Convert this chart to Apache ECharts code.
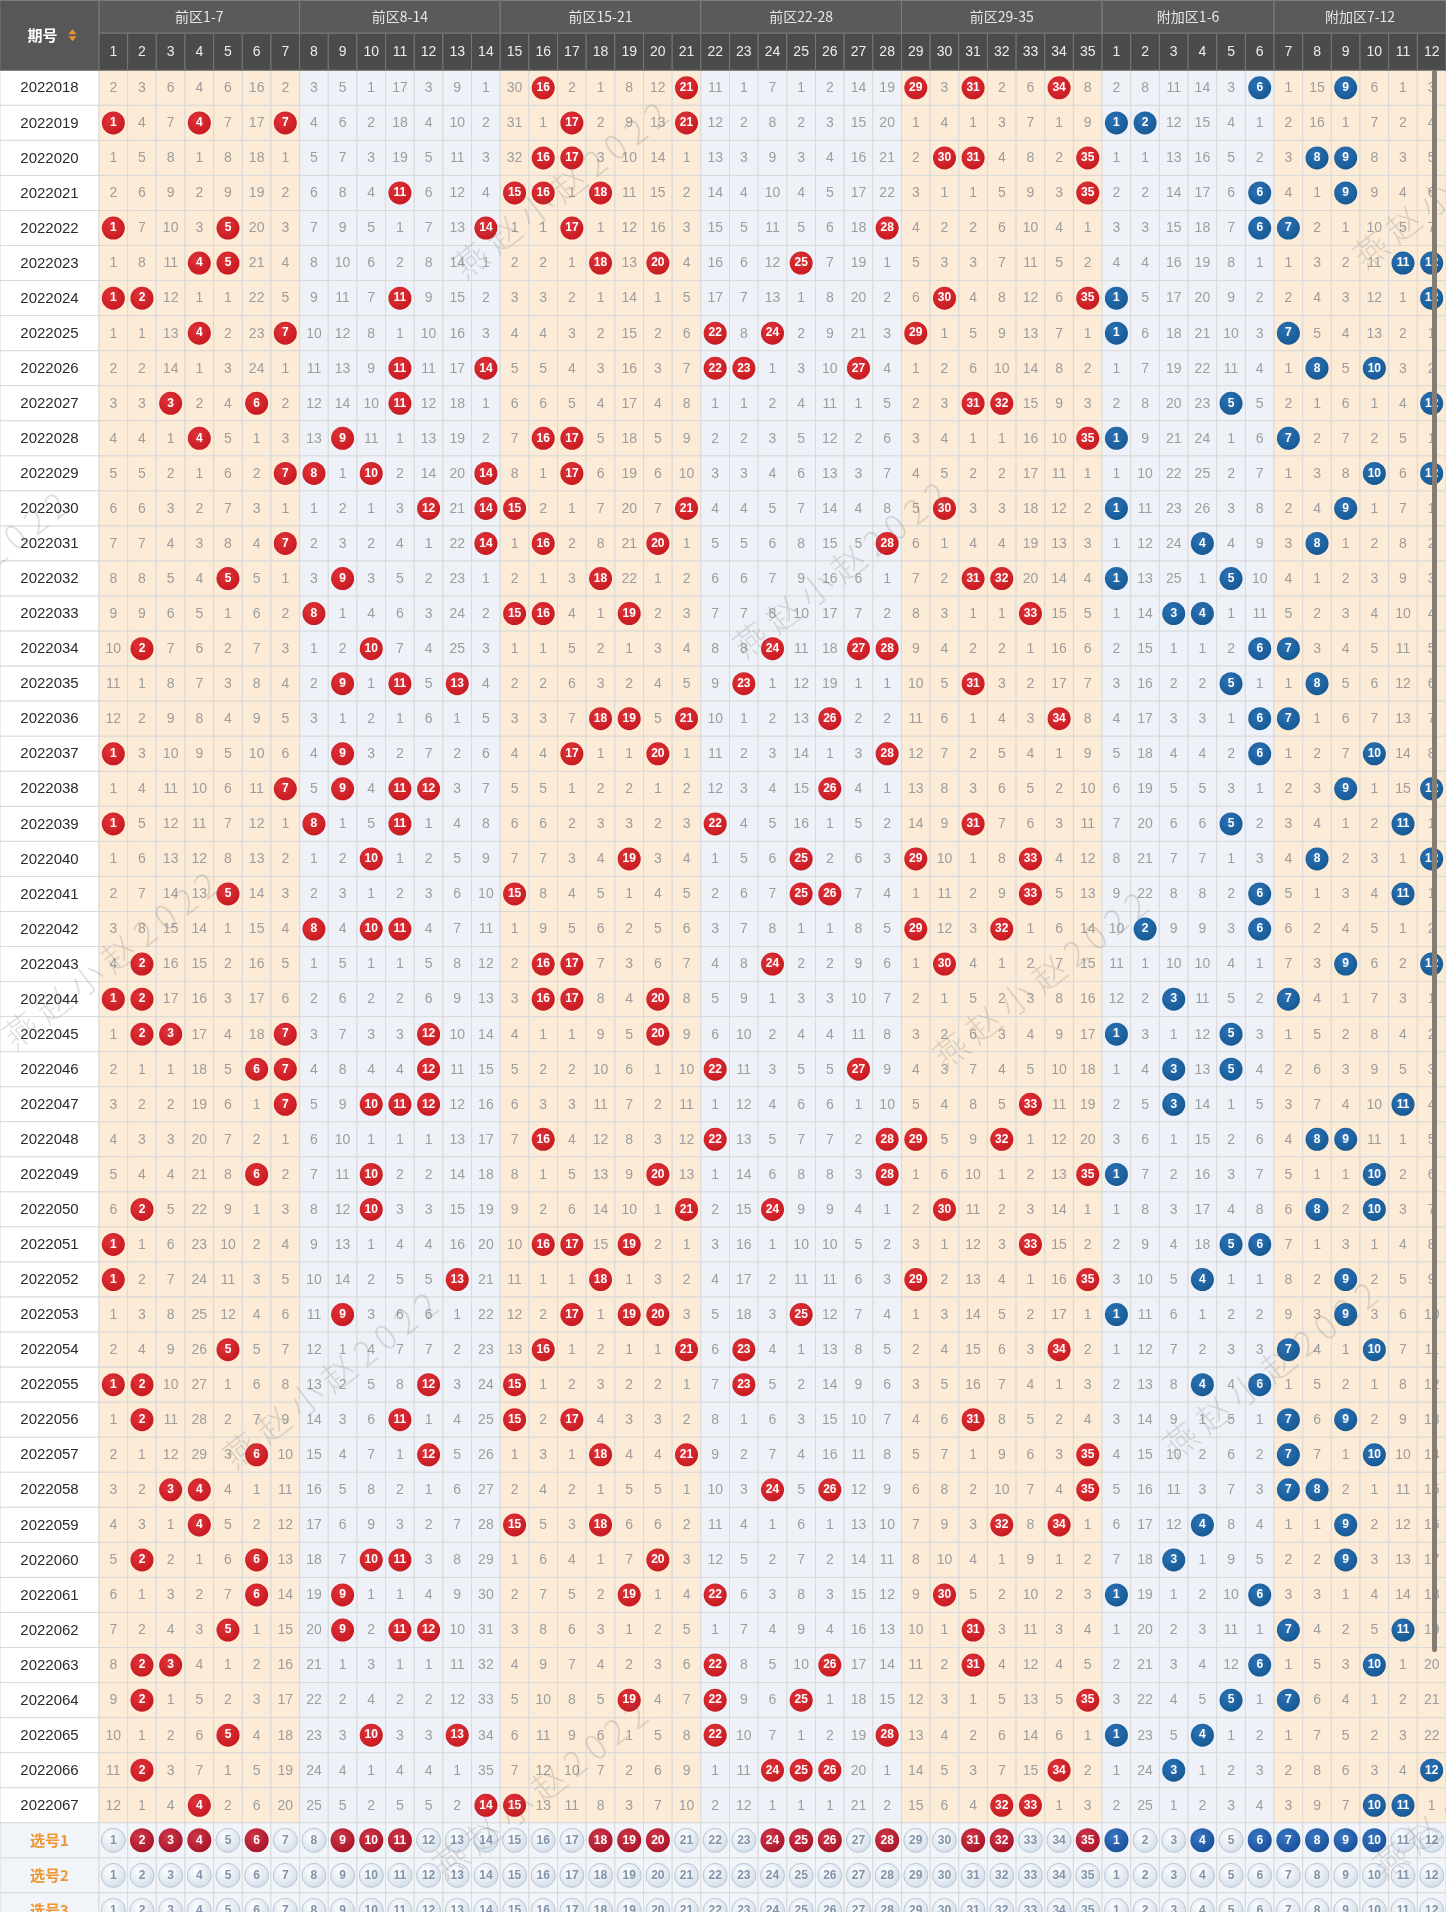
<!DOCTYPE html>
<html><head><meta charset="utf-8"><title>大乐透走势图</title>
<script src="https://cdn.jsdelivr.net/npm/echarts@6/dist/echarts.min.js"></script>
<style>html,body{margin:0;padding:0;background:#fff;overflow:hidden}#chart{width:1446px;height:1912px}</style>
</head><body><div id="chart"></div>
<script>
// ================= DATA =================
const issues = ['2022018','2022019','2022020','2022021','2022022','2022023','2022024','2022025','2022026','2022027',
'2022028','2022029','2022030','2022031','2022032','2022033','2022034','2022035','2022036','2022037',
'2022038','2022039','2022040','2022041','2022042','2022043','2022044','2022045','2022046','2022047',
'2022048','2022049','2022050','2022051','2022052','2022053','2022054','2022055','2022056','2022057',
'2022058','2022059','2022060','2022061','2022062','2022063','2022064','2022065','2022066','2022067'];

const groupLabels = ['前区1-7','前区8-14','前区15-21','前区22-28','前区29-35','附加区1-6','附加区7-12'];
const frontLabels = ['1','2','3','4','5','6','7','8','9','10','11','12','13','14','15','16','17','18','19','20',
'21','22','23','24','25','26','27','28','29','30','31','32','33','34','35'];
const backLabels = ['1','2','3','4','5','6','7','8','9','10','11','12'];

// drawn numbers per issue (circled cells)
const frontDraws = [
[16,21,29,31,34],[1,4,7,17,21],[16,17,30,31,35],[11,15,16,18,35],[1,5,14,17,28],
[4,5,18,20,25],[1,2,11,30,35],[4,7,22,24,29],[11,14,22,23,27],[3,6,11,31,32],
[4,9,16,17,35],[7,8,10,14,17],[12,14,15,21,30],[7,14,16,20,28],[5,9,18,31,32],
[8,15,16,19,33],[2,10,24,27,28],[9,11,13,23,31],[18,19,21,26,34],[1,9,17,20,28],
[7,9,11,12,26],[1,8,11,22,31],[10,19,25,29,33],[5,15,25,26,33],[8,10,11,29,32],
[2,16,17,24,30],[1,2,16,17,20],[2,3,7,12,20],[6,7,12,22,27],[7,10,11,12,33],
[16,22,28,29,32],[6,10,20,28,35],[2,10,21,24,30],[1,16,17,19,33],[1,13,18,29,35],
[9,17,19,20,25],[5,16,21,23,34],[1,2,12,15,23],[2,11,15,17,31],[6,12,18,21,35],
[3,4,24,26,35],[4,15,18,32,34],[2,6,10,11,20],[6,9,19,22,30],[5,9,11,12,31],
[2,3,22,26,31],[2,19,22,25,35],[5,10,13,22,28],[2,24,25,26,34],[4,14,15,32,33]];
const backDraws = [
[6,9],[1,2],[8,9],[6,9],[6,7],[11,12],[1,12],[1,7],[8,10],[5,12],
[1,7],[10,12],[1,9],[4,8],[1,5],[3,4],[6,7],[5,8],[6,7],[6,10],
[9,12],[5,11],[8,12],[6,11],[2,6],[9,12],[3,7],[1,5],[3,5],[3,11],
[8,9],[1,10],[8,10],[5,6],[4,9],[1,9],[7,10],[4,6],[7,9],[7,10],
[7,8],[4,9],[3,9],[1,6],[7,11],[6,10],[5,7],[1,4],[3,12],[10,11]];

// omission values shown in each column (one list per number, top to bottom; 0 = drawn)
const frontMiss = [
[2,0,1,2,0,1,0,1,2,3,4,5,6,7,8,9,10,11,12,0,1,0,1,2,3,4,0,1,2,3,4,5,6,0,0,1,2,0,1,2,3,4,5,6,7,8,9,10,11,12],
[3,4,5,6,7,8,0,1,2,3,4,5,6,7,8,9,0,1,2,3,4,5,6,7,8,0,0,0,1,2,3,4,0,1,2,3,4,0,0,1,2,3,0,1,2,0,0,1,0,1],
[6,7,8,9,10,11,12,13,14,0,1,2,3,4,5,6,7,8,9,10,11,12,13,14,15,16,17,0,1,2,3,4,5,6,7,8,9,10,11,12,0,1,2,3,4,0,1,2,3,4],
[4,0,1,2,3,0,1,0,1,2,0,1,2,3,4,5,6,7,8,9,10,11,12,13,14,15,16,17,18,19,20,21,22,23,24,25,26,27,28,29,0,0,1,2,3,4,5,6,7,0],
[6,7,8,9,0,0,1,2,3,4,5,6,7,8,0,1,2,3,4,5,6,7,8,0,1,2,3,4,5,6,7,8,9,10,11,12,0,1,2,3,4,5,6,7,0,1,2,0,1,2],
[16,17,18,19,20,21,22,23,24,0,1,2,3,4,5,6,7,8,9,10,11,12,13,14,15,16,17,18,0,1,2,0,1,2,3,4,5,6,7,0,1,2,0,0,1,2,3,4,5,6],
[2,0,1,2,3,4,5,0,1,2,3,0,1,0,1,2,3,4,5,6,0,1,2,3,4,5,6,0,0,0,1,2,3,4,5,6,7,8,9,10,11,12,13,14,15,16,17,18,19,20],
[3,4,5,6,7,8,9,10,11,12,13,0,1,2,3,0,1,2,3,4,5,0,1,2,0,1,2,3,4,5,6,7,8,9,10,11,12,13,14,15,16,17,18,19,20,21,22,23,24,25],
[5,6,7,8,9,10,11,12,13,14,0,1,2,3,0,1,2,0,1,0,0,1,2,3,4,5,6,7,8,9,10,11,12,13,14,0,1,2,3,4,5,6,7,0,0,1,2,3,4,5],
[1,2,3,4,5,6,7,8,9,10,11,0,1,2,3,4,0,1,2,3,4,5,0,1,0,1,2,3,4,0,1,0,0,1,2,3,4,5,6,7,8,9,0,1,2,3,4,0,1,2],
[17,18,19,0,1,2,0,1,0,0,1,2,3,4,5,6,7,0,1,2,0,0,1,2,0,1,2,3,4,0,1,2,3,4,5,6,7,8,0,1,2,3,0,1,0,1,2,3,4,5],
[3,4,5,6,7,8,9,10,11,12,13,14,0,1,2,3,4,5,6,7,0,1,2,3,4,5,6,0,0,0,1,2,3,4,5,6,7,0,1,0,1,2,3,4,0,1,2,3,4,5],
[9,10,11,12,13,14,15,16,17,18,19,20,21,22,23,24,25,0,1,2,3,4,5,6,7,8,9,10,11,12,13,14,15,16,0,1,2,3,4,5,6,7,8,9,10,11,12,0,1,2],
[1,2,3,4,0,1,2,3,0,1,2,0,0,0,1,2,3,4,5,6,7,8,9,10,11,12,13,14,15,16,17,18,19,20,21,22,23,24,25,26,27,28,29,30,31,32,33,34,35,0],
[30,31,32,0,1,2,3,4,5,6,7,8,0,1,2,0,1,2,3,4,5,6,7,0,1,2,3,4,5,6,7,8,9,10,11,12,13,0,0,1,2,0,1,2,3,4,5,6,7,0],
[0,1,0,0,1,2,3,4,5,6,0,1,2,0,1,0,1,2,3,4,5,6,7,8,9,0,0,1,2,3,0,1,2,0,1,2,0,1,2,3,4,5,6,7,8,9,10,11,12,13],
[2,0,0,1,0,1,2,3,4,5,0,0,1,2,3,4,5,6,7,0,1,2,3,4,5,0,0,1,2,3,4,5,6,0,1,0,1,2,0,1,2,3,4,5,6,7,8,9,10,11],
[1,2,3,0,1,0,1,2,3,4,5,6,7,8,0,1,2,3,0,1,2,3,4,5,6,7,8,9,10,11,12,13,14,15,0,1,2,3,4,0,1,0,1,2,3,4,5,6,7,8],
[8,9,10,11,12,13,14,15,16,17,18,19,20,21,22,0,1,2,0,1,2,3,0,1,2,3,4,5,6,7,8,9,10,0,1,0,1,2,3,4,5,6,7,0,1,2,0,1,2,3],
[12,13,14,15,16,0,1,2,3,4,5,6,7,0,1,2,3,4,5,0,1,2,3,4,5,6,0,0,1,2,3,0,1,2,3,0,1,2,3,4,5,6,0,1,2,3,4,5,6,7],
[0,0,1,2,3,4,5,6,7,8,9,10,0,1,2,3,4,5,0,1,2,3,4,5,6,7,8,9,10,11,12,13,0,1,2,3,0,1,2,0,1,2,3,4,5,6,7,8,9,10],
[11,12,13,14,15,16,17,0,0,1,2,3,4,5,6,7,8,9,10,11,12,0,1,2,3,4,5,6,0,1,0,1,2,3,4,5,6,7,8,9,10,11,12,0,1,0,0,0,1,2],
[1,2,3,4,5,6,7,8,0,1,2,3,4,5,6,7,8,0,1,2,3,4,5,6,7,8,9,10,11,12,13,14,15,16,17,18,0,0,1,2,3,4,5,6,7,8,9,10,11,12],
[7,8,9,10,11,12,13,0,1,2,3,4,5,6,7,8,0,1,2,3,4,5,6,7,8,0,1,2,3,4,5,6,0,1,2,3,4,5,6,7,0,1,2,3,4,5,6,7,0,1],
[1,2,3,4,5,0,1,2,3,4,5,6,7,8,9,10,11,12,13,14,15,16,0,0,1,2,3,4,5,6,7,8,9,10,11,0,1,2,3,4,5,6,7,8,9,10,0,1,0,1],
[2,3,4,5,6,7,8,9,10,11,12,13,14,15,16,17,18,19,0,1,0,1,2,0,1,2,3,4,5,6,7,8,9,10,11,12,13,14,15,16,0,1,2,3,4,0,1,2,0,1],
[14,15,16,17,18,19,20,21,0,1,2,3,4,5,6,7,0,1,2,3,4,5,6,7,8,9,10,11,0,1,2,3,4,5,6,7,8,9,10,11,12,13,14,15,16,17,18,19,20,21],
[19,20,21,22,0,1,2,3,4,5,6,7,8,0,1,2,0,1,2,0,1,2,3,4,5,6,7,8,9,10,0,0,1,2,3,4,5,6,7,8,9,10,11,12,13,14,15,0,1,2],
[0,1,2,3,4,5,6,0,1,2,3,4,5,6,7,8,9,10,11,12,13,14,0,1,0,1,2,3,4,5,0,1,2,3,0,1,2,3,4,5,6,7,8,9,10,11,12,13,14,15],
[3,4,0,1,2,3,0,1,2,3,4,5,0,1,2,3,4,5,6,7,8,9,10,11,12,0,1,2,3,4,5,6,0,1,2,3,4,5,6,7,8,9,10,0,1,2,3,4,5,6],
[0,1,0,1,2,3,4,5,6,0,1,2,3,4,0,1,2,0,1,2,3,0,1,2,3,4,5,6,7,8,9,10,11,12,13,14,15,16,0,1,2,3,4,5,0,0,1,2,3,4],
[2,3,4,5,6,7,8,9,10,0,1,2,3,4,0,1,2,3,4,5,6,7,8,9,0,1,2,3,4,5,0,1,2,3,4,5,6,7,8,9,10,0,1,2,3,4,5,6,7,0],
[6,7,8,9,10,11,12,13,14,15,16,17,18,19,20,0,1,2,3,4,5,6,0,0,1,2,3,4,5,0,1,2,3,0,1,2,3,4,5,6,7,8,9,10,11,12,13,14,15,0],
[0,1,2,3,4,5,6,7,8,9,10,11,12,13,14,15,16,17,0,1,2,3,4,5,6,7,8,9,10,11,12,13,14,15,16,17,0,1,2,3,4,0,1,2,3,4,5,6,0,1],
[8,9,0,0,1,2,0,1,2,3,0,1,2,3,4,5,6,7,8,9,10,11,12,13,14,15,16,17,18,19,20,0,1,2,0,1,2,3,4,0,0,1,2,3,4,5,0,1,2,3]];
const backMiss = [
[2,0,1,2,3,4,0,0,1,2,0,1,0,1,0,1,2,3,4,5,6,7,8,9,10,11,12,0,1,2,3,0,1,2,3,0,1,2,3,4,5,6,7,0,1,2,3,0,1,2],
[8,0,1,2,3,4,5,6,7,8,9,10,11,12,13,14,15,16,17,18,19,20,21,22,0,1,2,3,4,5,6,7,8,9,10,11,12,13,14,15,16,17,18,19,20,21,22,23,24,25],
[11,12,13,14,15,16,17,18,19,20,21,22,23,24,25,0,1,2,3,4,5,6,7,8,9,10,0,1,0,0,1,2,3,4,5,6,7,8,9,10,11,12,0,1,2,3,4,5,0,1],
[14,15,16,17,18,19,20,21,22,23,24,25,26,0,1,0,1,2,3,4,5,6,7,8,9,10,11,12,13,14,15,16,17,18,0,1,2,0,1,2,3,0,1,2,3,4,5,0,1,2],
[3,4,5,6,7,8,9,10,11,0,1,2,3,4,0,1,2,0,1,2,3,0,1,2,3,4,5,0,0,1,2,3,4,0,1,2,3,4,5,6,7,8,9,10,11,12,0,1,2,3],
[0,1,2,0,0,1,2,3,4,5,6,7,8,9,10,11,0,1,0,0,1,2,3,0,0,1,2,3,4,5,6,7,8,0,1,2,3,0,1,2,3,4,5,0,1,0,1,2,3,4],
[1,2,3,4,0,1,2,0,1,2,0,1,2,3,4,5,0,1,0,1,2,3,4,5,6,7,0,1,2,3,4,5,6,7,8,9,0,1,0,0,0,1,2,3,0,1,0,1,2,3],
[15,16,0,1,2,3,4,5,0,1,2,3,4,0,1,2,3,0,1,2,3,4,0,1,2,3,4,5,6,7,0,1,0,1,2,3,4,5,6,7,0,1,2,3,4,5,6,7,8,9],
[0,1,0,0,1,2,3,4,5,6,7,8,0,1,2,3,4,5,6,7,0,1,2,3,4,0,1,2,3,4,0,1,2,3,0,0,1,2,0,1,2,0,0,1,2,3,4,5,6,7],
[6,7,8,9,10,11,12,13,0,1,2,0,1,2,3,4,5,6,7,0,1,2,3,4,5,6,7,8,9,10,11,0,0,1,2,3,0,1,2,0,1,2,3,4,5,0,1,2,3,0],
[1,2,3,4,5,0,1,2,3,4,5,6,7,8,9,10,11,12,13,14,15,0,1,0,1,2,3,4,5,0,1,2,3,4,5,6,7,8,9,10,11,12,13,14,0,1,2,3,4,0],
[3,4,5,6,7,0,0,1,2,0,1,0,1,2,3,4,5,6,7,8,0,1,0,1,2,0,1,2,3,4,5,6,7,8,9,10,11,12,13,14,15,16,17,18,19,20,21,22,0,1]];

const pickRowLabels = ['选号1','选号2','选号3'];
const pick1Front = [2,3,4,6,9,10,11,18,19,20,24,25,26,28,31,32,35];
const pick1Back = [1,4,6,7,8,9,10];

// ================= LAYOUT / STYLE =================
const W = 1446;
const ROW = 35.05;                       // row height in px
const IW = 99 / ((W - 99) / 47);         // width of the issue column, in column units
const HG = 33 / ROW;                     // group-header height, in row units
const ORANGE = '#fcebd6', BLUE = '#eef2f8', LINE = '#d9d9d9';
const NUMFONT = '"Liberation Sans Narrow","Liberation Sans",Arial,sans-serif';
const CJK = '"Noto Sans CJK SC","Noto Sans",sans-serif';
const colLabels = frontLabels.concat(backLabels);
const groupSpan = [[0,7],[7,14],[14,21],[21,28],[28,35],[35,41],[41,47]];
function groupOf(c){ return c < 35 ? Math.floor(c / 7) : 5 + Math.floor((c - 35) / 6); }
function rectOf(api, x0, y0, x1, y1){
  const a = api.coord([x0, y0]), b = api.coord([x1, y1]);
  return {x: a[0], y: a[1], width: b[0] - a[0], height: b[1] - a[1]};
}

// ---- build series data from the arrays ----
const bgData = [], missData = [], frontHit = [], backHit = [], issueData = [];
for (let r = 0; r < issues.length; r++) {
  issueData.push([-IW / 2, r + 0.5, r]);
  bgData.push([-1, r]);
  for (let c = 0; c < 47; c++) {
    bgData.push([c, r]);
    const isFront = c < 35;
    const num = isFront ? c + 1 : c - 34;
    const hit = isFront ? frontDraws[r].indexOf(num) >= 0 : backDraws[r].indexOf(num) >= 0;
    if (hit) (isFront ? frontHit : backHit).push([c + 0.5, r + 0.5, num]);
    else missData.push([c + 0.5, r + 0.5, isFront ? frontMiss[c][r] : backMiss[c - 35][r]]);
  }
}
const headerData = [[0, 0]];
groupLabels.forEach((g, i) => headerData.push([1, i]));
colLabels.forEach((l, i) => headerData.push([2, i]));

const pickBg = [], pickPlain = [], pickRed = [], pickBlue = [];
for (let k = 0; k < pickRowLabels.length; k++) {
  const r = issues.length + k;
  pickBg.push([-1, r, k]);
  for (let c = 0; c < 47; c++) {
    pickBg.push([c, r, k]);
    const isFront = c < 35, num = isFront ? c + 1 : c - 34;
    const sel = k === 0 && (isFront ? pick1Front.indexOf(num) >= 0 : pick1Back.indexOf(num) >= 0);
    (sel ? (isFront ? pickRed : pickBlue) : pickPlain).push([c + 0.5, r + 0.5, num]);
  }
}

function radial(c0, c1){
  return {type: 'radial', x: 0.4, y: 0.35, r: 0.75, colorStops: [{offset: 0, color: c0}, {offset: 1, color: c1}]};
}
function ballSeries(name, data, fill, border, txt, size, z){
  return {
    type: 'scatter', name, data, z, symbol: 'circle', symbolSize: size,
    itemStyle: {color: fill, borderColor: border, borderWidth: border ? 1 : 0, opacity: 1},
    label: {show: true, position: 'inside', formatter: p => String(p.value[2]), color: txt,
            fontSize: 12, fontWeight: 'bold', fontFamily: 'Liberation Sans, Arial'},
    emphasis: {disabled: true}, silent: true
  };
}

// watermark positions (decoration)
const wm = [[560,190],[1460,180],[-40,580],[840,570],[110,960],[1040,980],[330,1380],[1270,1370],[540,1790],[1480,1790]];
const graphics = wm.map(p => ({
  type: 'text', x: p[0], y: p[1], rotation: 38 * Math.PI / 180, z: 100, silent: true,
  style: {text: '燕 赵 小 赵 2 0 2 2', fill: 'rgba(110,110,110,0.22)', font: '300 34px ' + CJK,
          align: 'center', verticalAlign: 'middle'}
}));
graphics.push({type: 'rect', z: 101, silent: true, shape: {x: 1432, y: 70, width: 5, height: 1582, r: 2},
               style: {fill: '#847d73'}});

const option = {
  animation: false,
  backgroundColor: '#ffffff',
  grid: {left: 0, right: 0, top: 0.2, height: ROW * 55, containLabel: false, outerBoundsMode: 'none'},
  xAxis: {type: 'value', min: -IW, max: 47, show: false},
  yAxis: {type: 'value', min: -2, max: 53, inverse: true, show: false},
  graphic: graphics,
  series: [
    { // cell backgrounds
      type: 'custom', name: 'cells', data: bgData, z: 1, silent: true,
      renderItem: (params, api) => {
        const c = api.value(0), r = api.value(1);
        const rc = c < 0 ? rectOf(api, -IW, r, 0, r + 1) : rectOf(api, c, r, c + 1, r + 1);
        const fill = c < 0 ? '#ffffff' : (groupOf(c) % 2 === 0 ? ORANGE : BLUE);
        return {type: 'rect', shape: rc, style: {fill, stroke: LINE, lineWidth: 1}};
      }
    },
    { // omission numbers
      type: 'custom', name: 'miss', data: missData, z: 2, silent: true,
      renderItem: (params, api) => {
        const p = api.coord([api.value(0), api.value(1)]);
        return {type: 'text', x: p[0], y: p[1] + 0.5,
                style: {text: String(api.value(2)), fill: '#9d9d9d', font: '14px ' + NUMFONT, align: 'center', verticalAlign: 'middle'}};
      }
    },
    { // issue numbers
      type: 'custom', name: 'issue', data: issueData, z: 2, silent: true,
      renderItem: (params, api) => {
        const p = api.coord([api.value(0), api.value(1)]);
        return {type: 'text', x: p[0], y: p[1] + 0.5,
                style: {text: issues[api.value(2)], fill: '#2b2b2b', font: '15px "Liberation Sans",Arial', align: 'center', verticalAlign: 'middle'}};
      }
    },
    ballSeries('front', frontHit, radial('#e0343a', '#c3161d'), null, '#fff', 23, 3),
    ballSeries('back', backHit, radial('#2c72b6', '#13568f'), null, '#fff', 23, 3),
    { // header
      type: 'custom', name: 'header', data: headerData, z: 4, silent: true,
      renderItem: (params, api) => {
        const kind = api.value(0), i = api.value(1);
        if (kind === 0) {
          const rc = rectOf(api, -IW, -2, 0, 0);
          const cx = rc.x + rc.width / 2, cy = rc.y + rc.height / 2;
          return {type: 'group', children: [
            {type: 'rect', shape: rc, style: {fill: '#575757', stroke: '#777', lineWidth: 1}},
            {type: 'text', x: cx - 7, y: cy, style: {text: '期号', fill: '#fff', font: 'bold 15px ' + CJK, align: 'center', verticalAlign: 'middle'}},
            {type: 'polygon', shape: {points: [[cx + 19, cy - 1], [cx + 27, cy - 1], [cx + 23, cy - 6]]}, style: {fill: '#f0922e'}},
            {type: 'polygon', shape: {points: [[cx + 19, cy + 1], [cx + 27, cy + 1], [cx + 23, cy + 6]]}, style: {fill: '#f0922e'}}
          ]};
        }
        if (kind === 1) {
          const s = groupSpan[i];
          const rc = rectOf(api, s[0], -2, s[1], -2 + HG);
          return {type: 'group', children: [
            {type: 'rect', shape: rc, style: {fill: '#5a5a5a', stroke: '#7c7c7c', lineWidth: 1}},
            {type: 'text', x: rc.x + rc.width / 2, y: rc.y + rc.height / 2,
             style: {text: groupLabels[i], fill: '#e6e6e6', font: '14px ' + CJK, align: 'center', verticalAlign: 'middle'}}
          ]};
        }
        const rc = rectOf(api, i, -2 + HG, i + 1, 0);
        return {type: 'group', children: [
          {type: 'rect', shape: rc, style: {fill: '#4b4b4b', stroke: '#767676', lineWidth: 1}},
          {type: 'text', x: rc.x + rc.width / 2, y: rc.y + rc.height / 2,
           style: {text: colLabels[i], fill: '#ececec', font: '14px ' + NUMFONT, align: 'center', verticalAlign: 'middle'}}
        ]};
      }
    },
    { // selection rows background + labels
      type: 'custom', name: 'pickRows', data: pickBg, z: 1, silent: true,
      renderItem: (params, api) => {
        const c = api.value(0), r = api.value(1), k = api.value(2);
        if (c < 0) {
          const rc = rectOf(api, -IW, r, 0, r + 1);
          return {type: 'group', children: [
            {type: 'rect', shape: rc, style: {fill: '#f1f4f8', stroke: LINE, lineWidth: 1}},
            {type: 'text', x: rc.x + rc.width / 2, y: rc.y + rc.height / 2,
             style: {text: pickRowLabels[k], fill: '#ee962f', font: 'bold 15px ' + CJK, align: 'center', verticalAlign: 'middle'}}
          ]};
        }
        return {type: 'rect', shape: rectOf(api, c, r, c + 1, r + 1), style: {fill: '#f1f4f8', stroke: LINE, lineWidth: 1}};
      }
    },
    ballSeries('pickPlain', pickPlain, radial('#ffffff', '#cdd9e6'), '#b9c6d5', '#8193a9', 24, 3),
    ballSeries('pickRed', pickRed, radial('#d23a4b', '#a10f24'), null, '#fff', 24, 3),
    ballSeries('pickBlue', pickBlue, radial('#3b79c4', '#174a94'), null, '#fff', 24, 3)
  ]
};
const chart = echarts.init(document.getElementById('chart'), null, {renderer: 'canvas', width: 1446, height: 1912});
chart.setOption(option);
</script></body></html>
